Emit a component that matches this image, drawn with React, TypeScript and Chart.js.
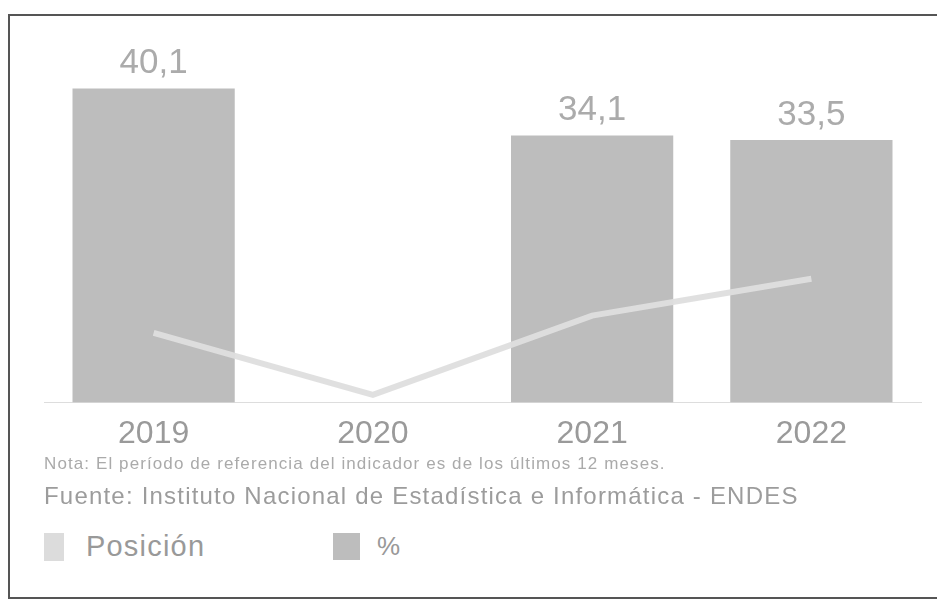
import React, { useEffect, useRef } from "react";
import { Chart, registerables } from "chart.js";

Chart.register(...registerables);

const categories = ["2019", "2020", "2021", "2022"];
const percentValues: (number | null)[] = [40.1, null, 34.1, 33.5];
const percentLabels = ["40,1", "", "34,1", "33,5"];
const positionValues = [8.9, 1.0, 11.1, 15.8];
const noteText = "Nota: El período de referencia del indicador es de los últimos 12 meses.";
const sourceText = "Fuente: Instituto Nacional de Estadística e Informática - ENDES";
const legendPosition = "Posición";
const legendPercent = "%";

const FONT = "'Liberation Sans', Arial, sans-serif";

const labelPlugin = {
  id: "barLabels",
  afterDatasetsDraw(chart: any) {
    const ctx = chart.ctx;
    const meta = chart.getDatasetMeta(1);
    ctx.save();
    ctx.font = `35px ${FONT}`;
    ctx.fillStyle = "#ababab";
    ctx.textAlign = "center";
    ctx.textBaseline = "alphabetic";
    meta.data.forEach((el: any, i: number) => {
      if (percentValues[i] == null) return;
      ctx.fillText(percentLabels[i], el.x, el.y - 15);
    });
    ctx.restore();
  },
};

export default function App() {
  const ref = useRef<HTMLCanvasElement>(null);
  useEffect(() => {
    if (!ref.current) return;
    const chart = new Chart(ref.current, {
      type: "bar",
      data: {
        labels: categories,
        datasets: [
          {
            type: "line",
            label: legendPosition,
            data: positionValues,
            borderColor: "rgba(222,222,222,0.95)",
            borderWidth: 6,
            pointRadius: 0,
            tension: 0,
            order: 0,
          } as any,
          {
            type: "bar",
            label: legendPercent,
            data: percentValues,
            backgroundColor: "#bdbdbd",
            barPercentage: 0.74,
            categoryPercentage: 1,
            order: 1,
          },
        ],
      },
      options: {
        animation: false,
        responsive: false,
        maintainAspectRatio: false,
        layout: { padding: { left: 44, right: 16, top: 50, bottom: 0 } },
        plugins: { legend: { display: false }, tooltip: { enabled: false } },
        scales: {
          y: { display: false, min: 0, max: 45 },
          x: {
            grid: { display: false, drawTicks: false },
            border: { display: true, color: "#dddddd", width: 1 },
            ticks: {
              color: "#9a9a9a",
              padding: 12,
              font: { size: 32, family: FONT },
            },
          },
        },
      },
      plugins: [labelPlugin],
    });
    return () => chart.destroy();
  }, []);

  return (
    <div style={{ position: "fixed", left: 0, top: 0, width: 937, height: 602, background: "#fff", overflow: "hidden", fontFamily: FONT }}>
      <div style={{ position: "absolute", left: 8, top: 14, width: 940, height: 581, border: "2px solid #555" }} />
      <canvas ref={ref} width={937} height={465} style={{ position: "absolute", left: 0, top: 0, width: 937, height: 465 }} />
      <div style={{ position: "absolute", left: 44, top: 454, fontSize: 17, letterSpacing: 1.1, color: "#aaa", whiteSpace: "nowrap" }}>{noteText}</div>
      <div style={{ position: "absolute", left: 44, top: 482, fontSize: 24, letterSpacing: 1.2, color: "#9c9c9c", whiteSpace: "nowrap" }}>{sourceText}</div>
      <div style={{ position: "absolute", left: 44, top: 530, display: "flex", alignItems: "center" }}>
        <span style={{ display: "inline-block", width: 20, height: 28, background: "#dcdcdc", marginRight: 22 }} />
        <span style={{ fontSize: 29, letterSpacing: 1.2, color: "#999", width: 247, whiteSpace: "nowrap" }}>{legendPosition}</span>
        <span style={{ display: "inline-block", width: 27, height: 27, background: "#bdbdbd", marginRight: 17 }} />
        <span style={{ fontSize: 26, color: "#999" }}>{legendPercent}</span>
      </div>
    </div>
  );
}
